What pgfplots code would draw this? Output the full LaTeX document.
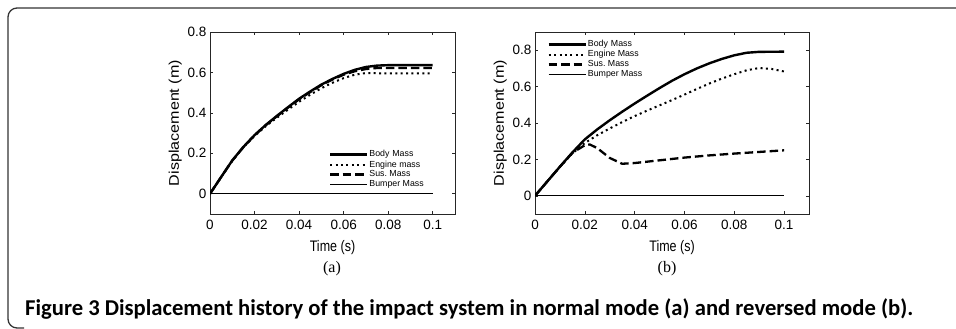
\documentclass[border=0pt]{standalone}
\usepackage{pgfplots}
\pgfplotsset{compat=1.18}
\usepackage{fontspec}
\setmainfont{Liberation Sans}
\newfontfamily\serifcap{Liberation Serif}
\newfontfamily\capfont{Carlito}
\pgfplotsset{
  matlab/.style={
    scale only axis, height=182pt,
    xmin=0, xmax=0.11, ymin=-0.1,
    xtick={0,0.02,0.04,0.06,0.08,0.1},
    xticklabels={0,0.02,0.04,0.06,0.08,0.1},
    ytick={0,0.2,0.4,0.6,0.8},
    yticklabels={0,0.2,0.4,0.6,0.8},
    scaled ticks=false,
    tick align=inside, tick pos=both, major tick length=3pt,
    axis line style={line width=1pt, black!85},
    every tick/.style={black!85, line width=0.6pt},
    tick label style={font=\fontsize{13.5}{13.5}\selectfont},
    xticklabel style={yshift=-3pt},
    xlabel={\scalebox{1}[1.22]{\fontsize{12.5}{13}\selectfont Time (s)}},
    ylabel={\scalebox{1.15}[1]{\fontsize{14}{14}\selectfont Displacement (m)}},
    xlabel style={yshift=-3pt}, ylabel style={yshift=-1pt},
    legend image code/.code={\draw[##1] (0pt,0pt) -- (37pt,0pt);},
    legend cell align=left,
    legend style={draw=none, fill=none, inner sep=0pt, row sep=0.2pt,
      font=\fontsize{8.8}{9}\selectfont, nodes={inner sep=1pt}},
  },
  body/.style={black, line width=2.4pt},
  engine/.style={black, line width=2pt, dash pattern=on 2pt off 3.4pt},
  sus/.style={black, line width=2.3pt, dash pattern=on 8.5pt off 4pt},
  bumper/.style={black, line width=0.7pt},
}
\begin{document}
\begin{tikzpicture}
\useasboundingbox (0,0) rectangle (956pt,-329pt);
\draw[black!80, line width=1.3pt, rounded corners=9pt] (24pt,-328pt) -- (8pt,-328pt) -- (8pt,-8pt) -- (960pt,-8pt);
\begin{axis}[matlab, at={(210pt,-214pt)}, anchor=south west, width=245pt, ymax=0.8,
  legend style={at={(0.485,0.355)}, anchor=north west}]
\addplot[body] coordinates {(0,0) (0.005,0.083) (0.01,0.165) (0.015,0.232) (0.02,0.29) (0.025,0.34) (0.03,0.385) (0.035,0.428) (0.04,0.47) (0.045,0.506) (0.05,0.54) (0.055,0.568) (0.06,0.593) (0.065,0.613) (0.07,0.627) (0.075,0.634) (0.08,0.636) (0.1,0.636)};
\addlegendentry{Body\,\,Mass}
\addplot[engine] coordinates {(0,0) (0.005,0.082) (0.01,0.163) (0.015,0.23) (0.02,0.286) (0.025,0.334) (0.03,0.376) (0.035,0.416) (0.04,0.455) (0.045,0.49) (0.05,0.522) (0.055,0.549) (0.06,0.572) (0.065,0.589) (0.07,0.597) (0.075,0.596) (0.1,0.595)};
\addlegendentry{Engine mass}
\addplot[sus] coordinates {(0,0) (0.005,0.083) (0.01,0.164) (0.015,0.231) (0.02,0.289) (0.025,0.339) (0.03,0.383) (0.035,0.426) (0.04,0.467) (0.045,0.503) (0.05,0.537) (0.055,0.565) (0.06,0.589) (0.065,0.606) (0.07,0.617) (0.075,0.622) (0.1,0.622)};
\addlegendentry{Sus.\ Mass}
\addplot[bumper] coordinates {(0,0) (0.1,0)};
\addlegendentry{Bumper Mass}
\end{axis}
\begin{axis}[matlab, at={(535pt,-214pt)}, anchor=south west, width=274pt, ymax=0.9,
  legend style={at={(0.045,0.96)}, anchor=north west}]
\addplot[body] coordinates {(0,0) (0.005,0.08) (0.01,0.16) (0.015,0.238) (0.02,0.31) (0.025,0.365) (0.03,0.415) (0.035,0.462) (0.04,0.507) (0.045,0.55) (0.05,0.592) (0.055,0.632) (0.06,0.668) (0.065,0.7) (0.07,0.728) (0.075,0.752) (0.08,0.772) (0.085,0.786) (0.09,0.791) (0.1,0.792)};
\addlegendentry{Body\,\,Mass}
\addplot[engine] coordinates {(0,0) (0.005,0.08) (0.01,0.159) (0.015,0.233) (0.02,0.29) (0.025,0.333) (0.03,0.37) (0.035,0.405) (0.04,0.438) (0.045,0.468) (0.05,0.497) (0.055,0.526) (0.06,0.556) (0.065,0.587) (0.07,0.617) (0.075,0.644) (0.08,0.668) (0.085,0.69) (0.09,0.702) (0.095,0.697) (0.1,0.683)};
\addlegendentry{Engine Mass}
\addplot[sus] coordinates {(0,0) (0.005,0.08) (0.01,0.16) (0.015,0.236) (0.02,0.278) (0.022,0.282) (0.025,0.262) (0.03,0.208) (0.035,0.176) (0.04,0.18) (0.05,0.195) (0.06,0.21) (0.07,0.222) (0.08,0.232) (0.09,0.241) (0.1,0.25)};
\addlegendentry{Sus.\ Mass}
\addplot[bumper] coordinates {(0,0) (0.1,0)};
\addlegendentry{Bumper Mass}
\end{axis}
\node[font=\serifcap\fontsize{16}{16}\selectfont] at (332pt,-269pt) {(a)};
\node[font=\serifcap\fontsize{16}{16}\selectfont] at (667pt,-269pt) {(b)};
\node[anchor=west, inner sep=0pt] at (25pt,-309pt) {\resizebox{888pt}{!}{\capfont\bfseries\fontsize{16}{16}\selectfont Figure 3 Displacement history of the impact system in normal mode (a) and reversed mode (b).}};
\end{tikzpicture}
\end{document}
